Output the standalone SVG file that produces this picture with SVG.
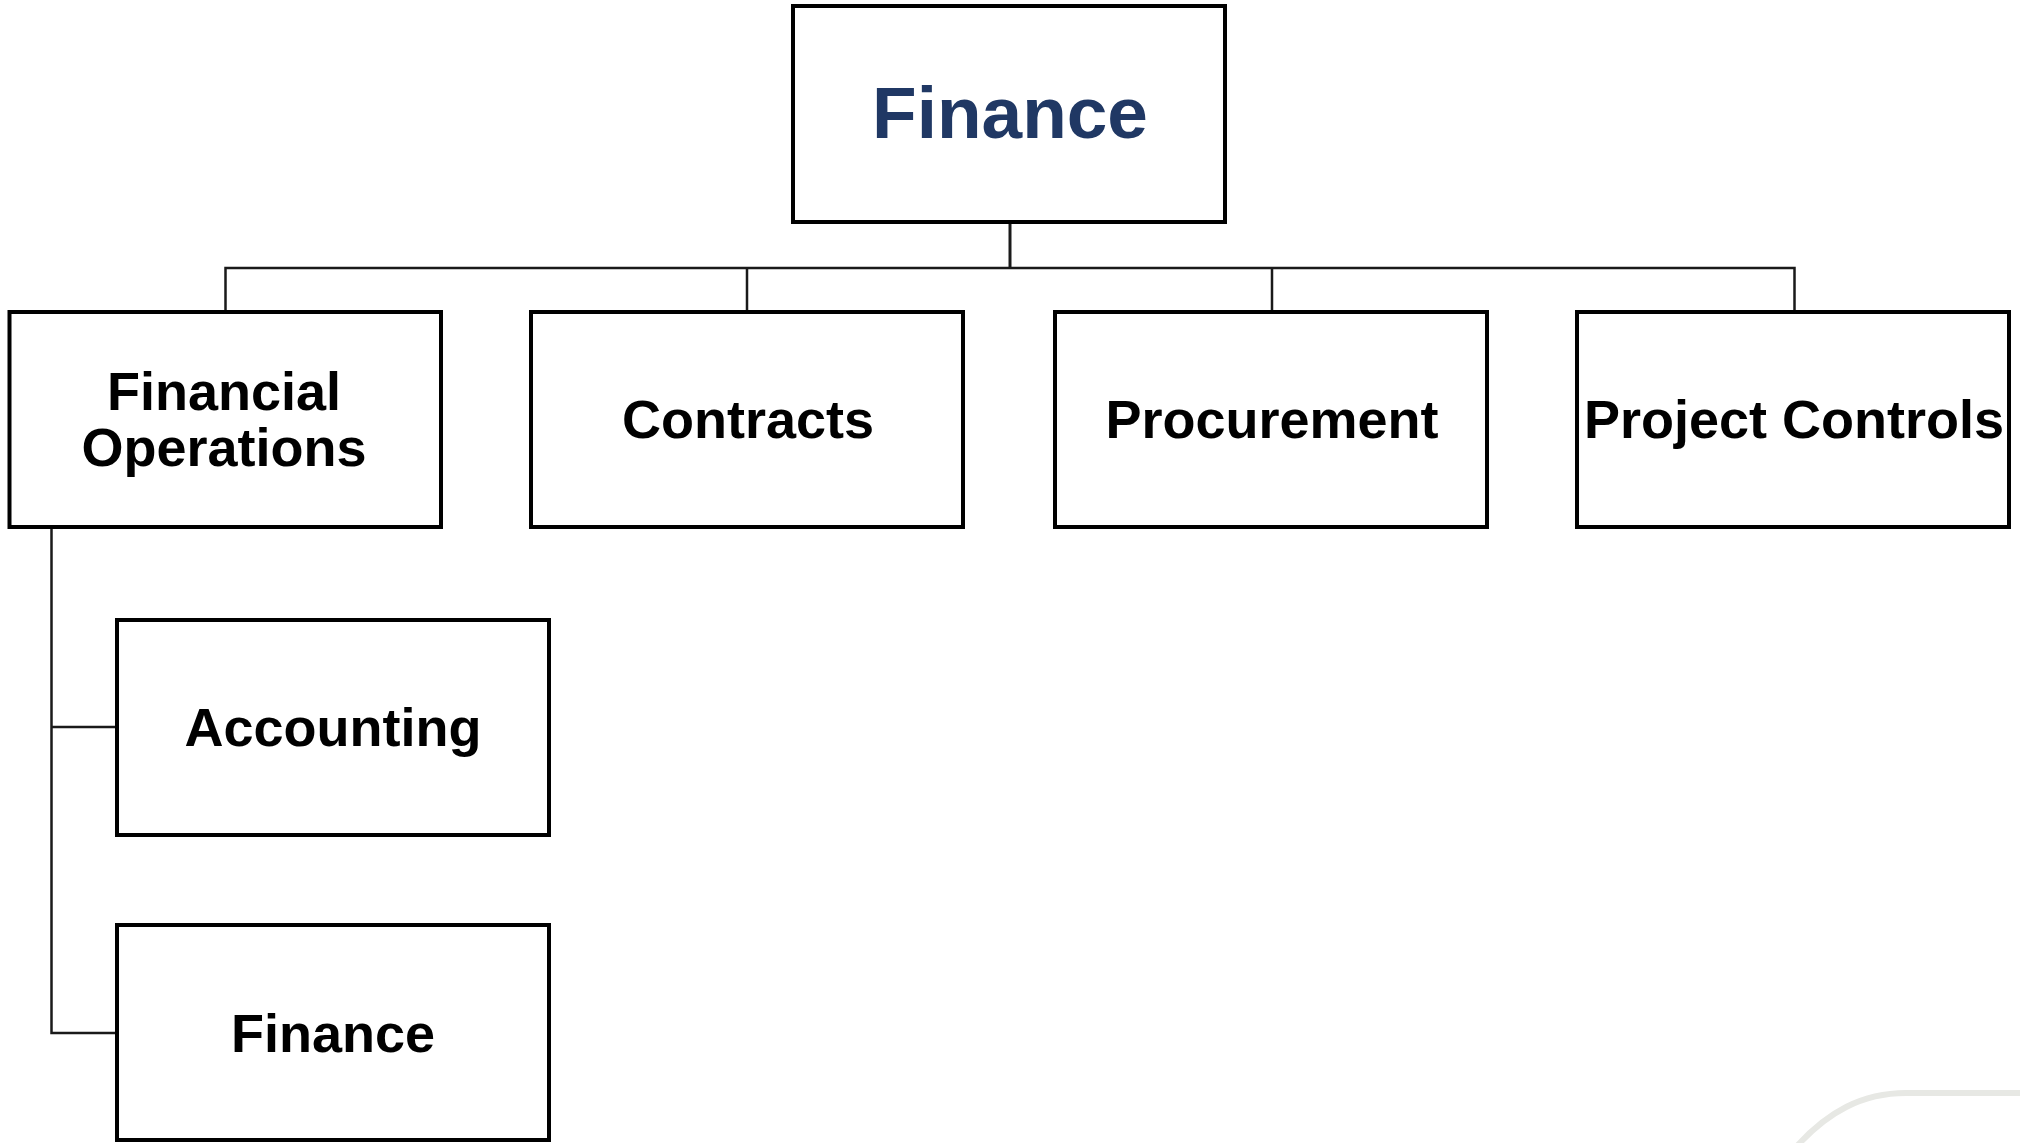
<svg xmlns="http://www.w3.org/2000/svg" width="2020" height="1143" viewBox="0 0 2020 1143">
<style>
.box{fill:#fff;stroke:#000;stroke-width:4}
.lbl{font-family:"Liberation Sans",Arial,sans-serif;font-weight:bold;font-size:54px;fill:#000;text-anchor:middle}
.top{font-size:73px;fill:#203864}
.conn{fill:none;stroke:#1a1a1a;stroke-width:2.5}
</style>
<rect width="2020" height="1143" fill="#fff"/>
<path d="M1797 1146 C1828 1112 1862 1093 1906 1093 L2022 1093" fill="none" stroke="#e7e8e4" stroke-width="6"/>
<g id="connectors">
<path class="conn" style="stroke-width:3" d="M1010 222 V268"/>
<path class="conn" d="M225.5 310.5 V268 H1794.5 V310.5"/>
<path class="conn" d="M747 268 V310.5 M1272 268 V310.5"/>
<path class="conn" d="M51.5 527 V1033 H116 M51.5 727 H116"/>
</g>
<g id="n-finance-top">
<rect class="box" x="793" y="6" width="432" height="216"/>
<text class="lbl top" x="1010" y="138">Finance</text>
</g>
<g id="n-finops">
<rect class="box" x="9.5" y="312" width="431.5" height="215"/>
<text class="lbl" x="224" y="410">Financial</text>
<text class="lbl" x="224" y="466">Operations</text>
</g>
<g id="n-contracts">
<rect class="box" x="531" y="312" width="432" height="215"/>
<text class="lbl" x="748" y="438">Contracts</text>
</g>
<g id="n-procurement">
<rect class="box" x="1055" y="312" width="432" height="215"/>
<text class="lbl" x="1272" y="438">Procurement</text>
</g>
<g id="n-project-controls">
<rect class="box" x="1577" y="312" width="432" height="215"/>
<text class="lbl" x="1794" y="438">Project Controls</text>
</g>
<g id="n-accounting">
<rect class="box" x="117" y="620" width="432" height="215"/>
<text class="lbl" x="333" y="746">Accounting</text>
</g>
<g id="n-finance-child">
<rect class="box" x="117" y="925" width="432" height="215"/>
<text class="lbl" x="333" y="1052">Finance</text>
</g>
</svg>
